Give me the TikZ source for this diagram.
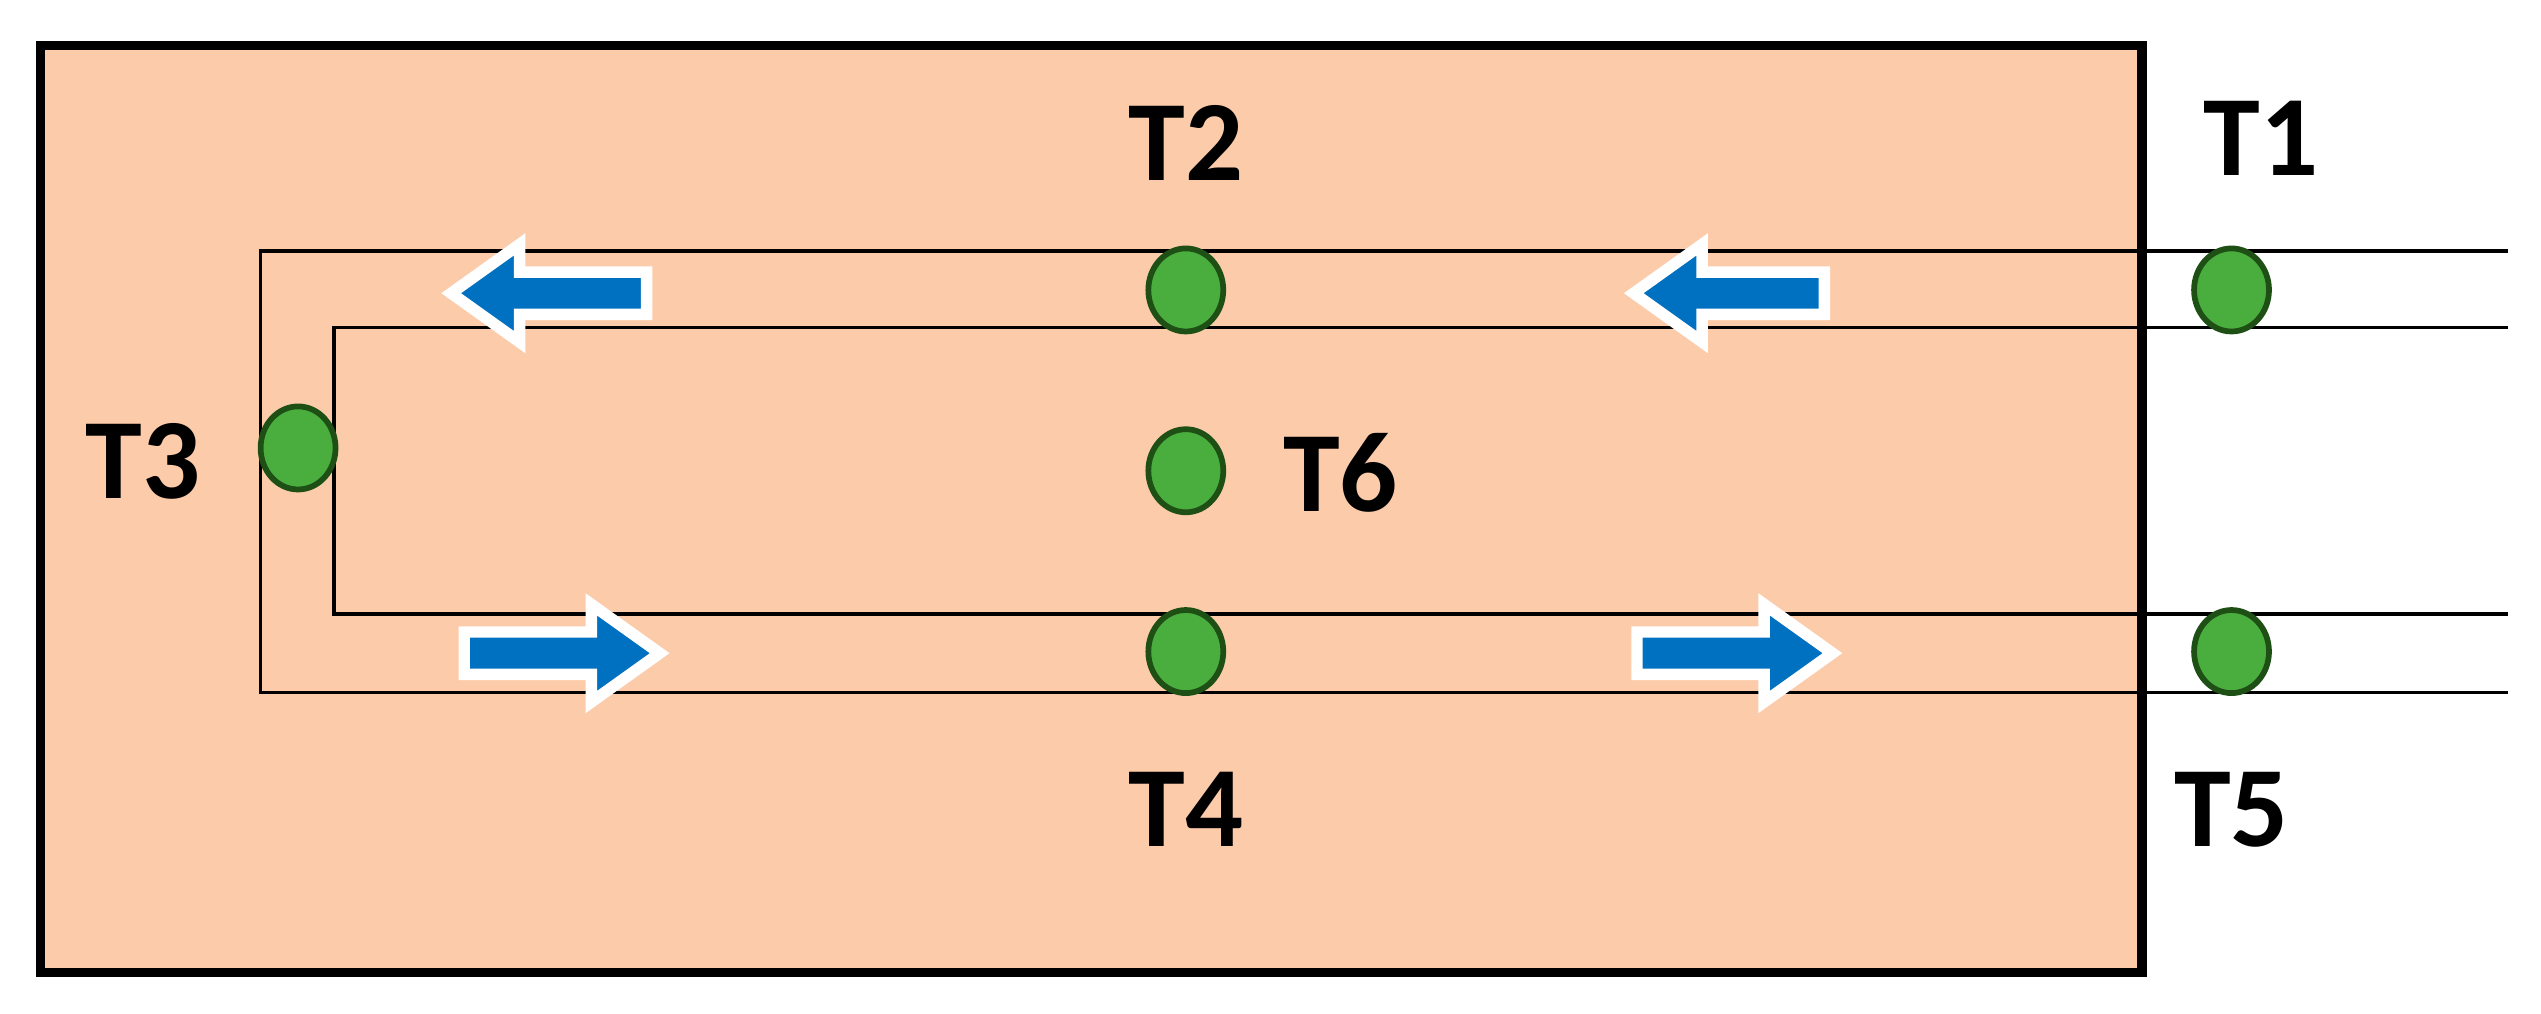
\documentclass[tikz,border=0pt]{standalone}
\usepackage{fontspec}
\setmainfont{Carlito}
\usetikzlibrary{shapes.geometric}
\definecolor{peach}{HTML}{FCCBAA}
\definecolor{dotgreen}{HTML}{4AAE3F}
\definecolor{dotedge}{HTML}{1E4F14}
\definecolor{flowblue}{HTML}{0070C0}
\newcommand\leftarr[3]{\fill[flowblue,draw=white,line width=2pt] (#1,#3)--(#1+42,#3-30)--(#1+42,#3-13)--(#2,#3-13)--(#2,#3+13)--(#1+42,#3+13)--(#1+42,#3+30)--cycle;}
\newcommand\rightarr[3]{\fill[flowblue,draw=white,line width=2pt] (#1,#3)--(#1-42,#3-30)--(#1-42,#3-13)--(#2,#3-13)--(#2,#3+13)--(#1-42,#3+13)--(#1-42,#3+30)--cycle;}
\begin{document}
\begin{tikzpicture}[x=0.1mm,y=-0.1mm,
  dot/.style={ellipse,draw=dotedge,fill=dotgreen,line width=1pt,inner sep=0pt,minimum width=4.6mm,minimum height=5.1mm},
  lbl/.style={font=\fontsize{20}{22}\selectfont\bfseries,inner sep=0pt},
  wire/.style={line width=0.6pt}]
\useasboundingbox (0,0) rectangle (1560,622);
\draw[fill=peach,line width=1.6pt] (25,28) rectangle (1315,597);
\coordinate (o1) at (1540,154); \coordinate (o2) at (160,154);
\coordinate (o3) at (160,425); \coordinate (o4) at (1540,425);
\coordinate (i1) at (1540,201); \coordinate (i2) at (205,201);
\coordinate (i3) at (205,377); \coordinate (i4) at (1540,377);
\draw[wire] (o1)--(o2)--(o3)--(o4);
\draw[wire] (i1)--(i2)--(i3)--(i4);
\leftarr{277}{397}{180}
\leftarr{1003}{1120}{180}
\rightarr{405}{285}{401}
\rightarr{1125}{1005}{401}
\node[dot] (d2) at (728,178) {};
\node[dot] (d1) at (1370,178) {};
\node[dot] (d3) at (183,275) {};
\node[dot] (d6) at (728,289) {};
\node[dot] (d4) at (728,400) {};
\node[dot] (d5) at (1370,400) {};
\node[lbl] (t2) at (728,88) {T2};
\node[lbl] (t1) at (1388,85) {T1};
\node[lbl] (t3) at (88,283) {T3};
\node[lbl] (t6) at (823,290) {T6};
\node[lbl] (t4) at (728,497) {T4};
\node[lbl] (t5) at (1370,497) {T5};
\end{tikzpicture}
\end{document}
